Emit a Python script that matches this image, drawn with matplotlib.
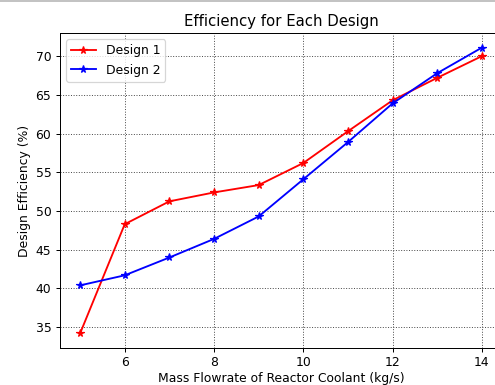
import matplotlib
matplotlib.use("Agg")
import matplotlib.pyplot as plt
from matplotlib.lines import Line2D

# mass flowrate (kg/s) and efficiency (%)
flowrate = [5, 6, 7, 8, 9, 10, 11, 12, 13, 14]
design1 = [34.2, 48.3, 51.25, 52.4, 53.35, 56.2, 60.3, 64.3, 67.2, 70.0]
design2 = [40.4, 41.7, 44.0, 46.4, 49.3, 54.1, 58.9, 63.9, 67.8, 71.1]

dpi = 89
fig = plt.figure(figsize=(495 / dpi, 385 / dpi), dpi=dpi)
# the axes run past the right edge, as in the cropped original
ax = fig.add_axes([0.1212, 0.0969, 0.893, 0.8166])

ax.plot(flowrate, design1, 'r-*', label='Design 1')
ax.plot(flowrate, design2, 'b-*', label='Design 2')

ax.set_title('Efficiency for Each Design')
ax.set_xlabel('Mass Flowrate of Reactor Coolant (kg/s)', labelpad=2)
ax.set_ylabel('Design Efficiency (%)')
ax.grid(True, color='0.3', linestyle=':', linewidth=0.8)
ax.legend(loc='upper left')

# thin grey strip at the top of the screenshot
fig.add_artist(Line2D([0, 1], [0.998, 0.998], color='0.75', linewidth=1.5,
                      transform=fig.transFigure))

fig.savefig('out.png', dpi=dpi)
